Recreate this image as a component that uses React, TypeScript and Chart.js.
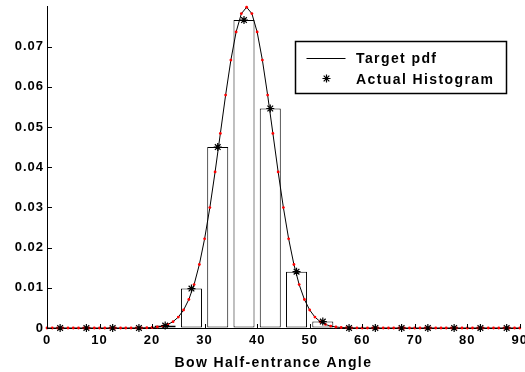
import React, { useEffect, useRef } from "react";
import { Chart, registerables } from "chart.js";

Chart.register(...registerables);

// Target pdf sampled at every integer angle (0..90)
const pdfAngles = [
  0, 1, 2, 3, 4, 5, 6, 7, 8, 9, 10, 11, 12, 13, 14, 15, 16, 17, 18, 19, 20,
  21, 22, 23, 24, 25, 26, 27, 28, 29, 30, 31, 32, 33, 34, 35, 36, 37, 38, 39, 40,
  41, 42, 43, 44, 45, 46, 47, 48, 49, 50, 51, 52, 53, 54, 55, 56, 57, 58, 59, 60,
  61, 62, 63, 64, 65, 66, 67, 68, 69, 70, 71, 72, 73, 74, 75, 76, 77, 78, 79, 80,
  81, 82, 83, 84, 85, 86, 87, 88, 89, 90,
];
const pdfValues = [
  0, 0, 0, 0, 0, 0, 0, 0, 0, 0, 0, 0, 0, 0, 0, 0,
  0.000005, 0.000012, 0.000027, 0.000058, 0.000122, 0.000246, 0.000477, 0.000886,
  0.001583, 0.002717, 0.004479, 0.007095, 0.010798, 0.01579, 0.022184, 0.029945,
  0.038837, 0.048394, 0.057938, 0.066645, 0.073654, 0.078208, 0.079788, 0.078208,
  0.073654, 0.066645, 0.057938, 0.048394, 0.038837, 0.029945, 0.022184, 0.01579,
  0.010798, 0.007095, 0.004479, 0.002717, 0.001583, 0.000886, 0.000477, 0.000246,
  0.000122, 0.000058, 0.000027, 0.000012, 0.000005,
  0, 0, 0, 0, 0, 0, 0, 0, 0, 0, 0, 0, 0, 0, 0,
  0, 0, 0, 0, 0, 0, 0, 0, 0, 0, 0, 0, 0, 0, 0,
];

// Histogram (bin width 5)
const binCenters = [
  2.5, 7.5, 12.5, 17.5, 22.5, 27.5, 32.5, 37.5, 42.5, 47.5, 52.5, 57.5, 62.5,
  67.5, 72.5, 77.5, 82.5, 87.5,
];
const histValues = [
  0, 0, 0, 0, 0.0006, 0.0098, 0.045, 0.0766, 0.0546, 0.014, 0.0016, 0, 0, 0, 0,
  0, 0, 0,
];

const xTitle = "Bow Half-entrance Angle";
const legendLabels = ["Target pdf", "Actual Histogram"];

const FONT = '"Liberation Sans", Arial, Helvetica, sans-serif';

function drawStar(ctx: CanvasRenderingContext2D, x: number, y: number, r: number) {
  const d = r * Math.SQRT1_2;
  ctx.beginPath();
  ctx.moveTo(x - r, y);
  ctx.lineTo(x + r, y);
  ctx.moveTo(x, y - r);
  ctx.lineTo(x, y + r);
  ctx.moveTo(x - d, y - d);
  ctx.lineTo(x + d, y + d);
  ctx.moveTo(x - d, y + d);
  ctx.lineTo(x + d, y - d);
  ctx.stroke();
}

const decorPlugin = {
  id: "decor",
  beforeDraw(chart: any) {
    (chart.ctx as any).letterSpacing = "1px";
  },
  afterDraw(chart: any) {
    const { ctx, chartArea, scales } = chart;
    ctx.save();
    ctx.strokeStyle = "#000";
    ctx.lineWidth = 1;
    ctx.beginPath();
    scales.y.ticks.forEach((t: any) => {
      const y = Math.round(scales.y.getPixelForValue(t.value)) + 0.5;
      ctx.moveTo(chartArea.left, y);
      ctx.lineTo(chartArea.left + 5, y);
    });
    scales.x.ticks.forEach((t: any) => {
      const x = Math.round(scales.x.getPixelForValue(t.value)) + 0.5;
      ctx.moveTo(x, chartArea.bottom);
      ctx.lineTo(x, chartArea.bottom - 4);
    });
    ctx.stroke();

    // Legend box
    const bx = 295.5, by = 41.5, bw = 211, bh = 52;
    ctx.fillStyle = "#fff";
    ctx.fillRect(bx, by, bw, bh);
    ctx.lineWidth = 1.5;
    ctx.strokeRect(bx, by, bw, bh);
    ctx.lineWidth = 1;
    ctx.beginPath();
    ctx.moveTo(306.5, 58.5);
    ctx.lineTo(345.5, 58.5);
    ctx.stroke();
    ctx.lineWidth = 1.2;
    drawStar(ctx, 326.5, 78.5, 4);
    ctx.fillStyle = "#000";
    ctx.font = `bold 14px ${FONT}`;
    (ctx as any).letterSpacing = "1.4px";
    ctx.textAlign = "left";
    ctx.textBaseline = "middle";
    ctx.fillText(legendLabels[0], 356, 59);
    ctx.fillText(legendLabels[1], 356, 80.5);

    // X axis title
    ctx.textAlign = "center";
    ctx.fillText(xTitle, (chartArea.left + chartArea.right) / 2 - 10, 363.5);
    ctx.restore();
  },
};

export default function App() {
  const canvasRef = useRef<HTMLCanvasElement | null>(null);

  useEffect(() => {
    if (!canvasRef.current) return;
    const chart = new Chart(canvasRef.current, {
      type: "bar",
      data: {
        datasets: [
          {
            type: "line",
            label: "stars",
            data: binCenters.map((x, i) => ({ x, y: histValues[i] })),
            showLine: false,
            pointStyle: "star",
            pointRadius: 4,
            pointBorderWidth: 1.2,
            pointBorderColor: "#000",
            pointBackgroundColor: "#000",
            clip: false,
            order: 0,
          } as any,
          {
            type: "line",
            label: "dots",
            data: pdfAngles.map((x, i) => ({ x, y: pdfValues[i] })),
            showLine: false,
            pointStyle: "circle",
            pointRadius: 1.4,
            pointBorderWidth: 0,
            pointBackgroundColor: "#ff0000",
            clip: false,
            order: 1,
          } as any,
          {
            type: "line",
            label: legendLabels[0],
            data: pdfAngles.map((x, i) => ({ x, y: pdfValues[i] })),
            borderColor: "#000",
            borderWidth: 1,
            pointRadius: 0,
            tension: 0,
            fill: false,
            order: 2,
          } as any,
          {
            type: "bar",
            label: legendLabels[1],
            data: binCenters.map((x, i) => ({ x, y: histValues[i] })),
            backgroundColor: "#fff",
            borderColor: "#000",
            borderWidth: 1,
            borderSkipped: false,
            barPercentage: 0.8,
            categoryPercentage: 1,
            grouped: false,
            order: 3,
          } as any,
        ],
      },
      options: {
        animation: false,
        responsive: false,
        devicePixelRatio: 1,
        events: [],
        layout: { padding: { top: 6, right: 2, left: 0, bottom: 0 } },
        plugins: {
          legend: { display: false },
          tooltip: { enabled: false },
          title: { display: false },
        },
        scales: {
          x: {
            type: "linear",
            min: 0,
            max: 90,
            offset: false,
            grid: {
              display: true,
              drawOnChartArea: false,
              drawTicks: false,
              offset: false,
            },
            border: { display: true, color: "#000", width: 1 },
            ticks: {
              stepSize: 10,
              autoSkip: false,
              maxRotation: 0,
              padding: 5,
              color: "#000",
              font: { family: FONT, size: 13, weight: "bold" },
            },
            afterFit: (s: any) => {
              s.height = 44;
              s.paddingLeft = 0;
              s.paddingRight = 0;
            },
          },
          y: {
            type: "linear",
            min: 0,
            max: 0.0801,
            grid: {
              display: true,
              drawOnChartArea: false,
              drawTicks: false,
            },
            border: { display: true, color: "#000", width: 1 },
            ticks: {
              stepSize: 0.01,
              padding: 3,
              color: "#000",
              font: { family: FONT, size: 13, weight: "bold" },
              callback: (v: any) => (v === 0 ? "0" : Number(v).toFixed(2)),
            },
            afterBuildTicks: (s: any) => {
              s.ticks = s.ticks.filter((t: any) => t.value <= 0.0705);
            },
            afterFit: (s: any) => {
              s.width = 47;
              s.paddingTop = 0;
              s.paddingBottom = 0;
            },
          },
        },
      } as any,
      plugins: [decorPlugin],
    });
    return () => chart.destroy();
  }, []);

  return (
    <div style={{ position: "absolute", left: 0, top: 0, width: 525, height: 372, background: "#fff" }}>
      <canvas ref={canvasRef} width={525} height={372} style={{ display: "block" }} />
    </div>
  );
}
